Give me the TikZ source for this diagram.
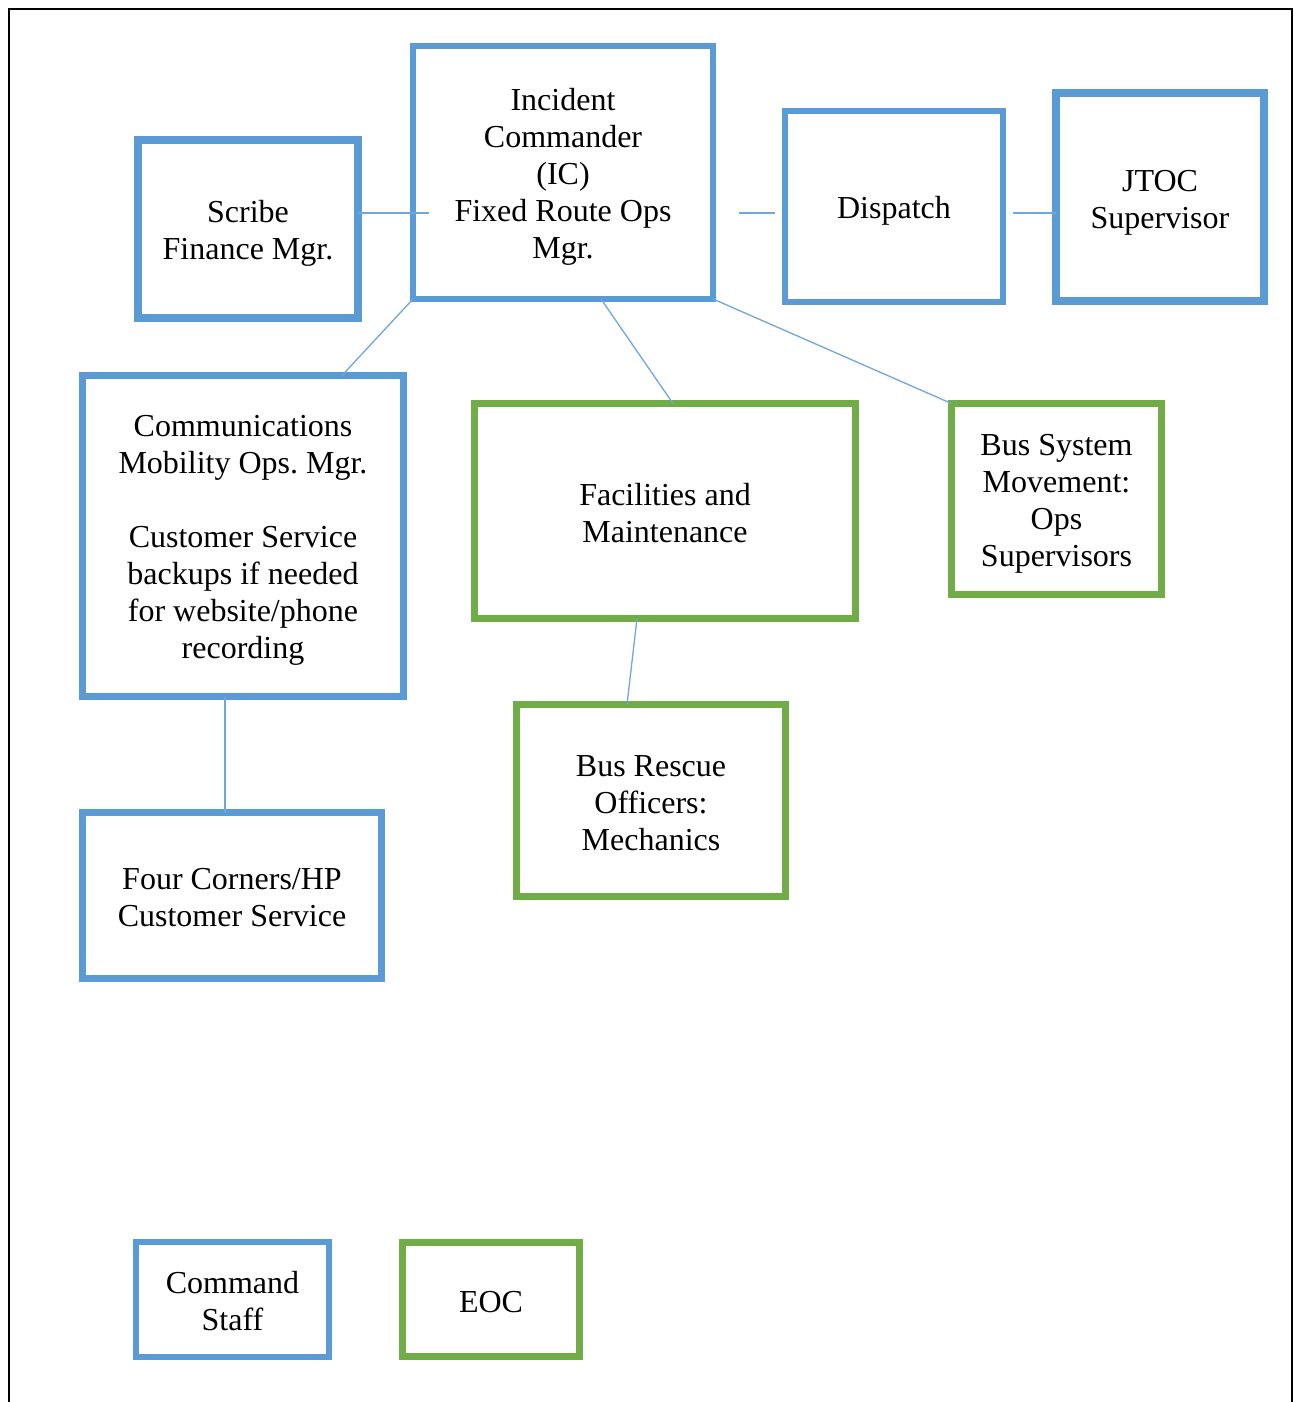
\documentclass[tikz,border=0pt]{standalone}
\usepackage{fontspec}
\setmainfont{Liberation Serif}
\frenchspacing
\definecolor{bluebox}{HTML}{5B9BD5}
\definecolor{greenbox}{HTML}{70AD47}
\definecolor{linkblue}{HTML}{6FA6DB}
\tikzset{
  box/.style={draw, rectangle, inner sep=0pt, outer sep=0pt},
  bluebx/.style={box, draw=bluebox},
  greenbx/.style={box, draw=greenbox},
  txt/.style={align=center, inner sep=0pt, font=\fontsize{32}{37}\selectfont\frenchspacing, text=black},
  link/.style={draw=linkblue, line width=1.3pt},
  frame/.style={draw=black, line width=2pt}
}
\begin{document}
\begin{tikzpicture}[x=1pt, y=-1pt]
\useasboundingbox (0,0) rectangle (1293,1402);
% frame
\coordinate (fbl) at (9,1402);
\coordinate (ftl) at (9,9);
\coordinate (ftr) at (1292,9);
\coordinate (fbr) at (1292,1402);
\draw[frame] (fbl) -- (ftl) -- (ftr) -- (fbr);

% boxes
\node[bluebx, line width=8pt, minimum width=220pt, minimum height=178pt] (scribe) at (248,229) {};
\node[bluebx, line width=6pt, minimum width=300pt, minimum height=253pt] (ic) at (563,172.5) {};
\node[bluebx, line width=6pt, minimum width=218pt, minimum height=191pt] (dispatch) at (894,206.5) {};
\node[bluebx, line width=8pt, minimum width=208pt, minimum height=208pt] (jtoc) at (1160,197) {};
\node[bluebx, line width=7pt, minimum width=321pt, minimum height=321pt] (comm) at (243,536) {};
\node[greenbx, line width=7pt, minimum width=381pt, minimum height=215pt] (fac) at (665,511) {};
\node[greenbx, line width=7pt, minimum width=210pt, minimum height=191pt] (bussys) at (1056.5,499) {};
\node[greenbx, line width=7pt, minimum width=269pt, minimum height=192pt] (rescue) at (651,800.5) {};
\node[bluebx, line width=7pt, minimum width=299pt, minimum height=166pt] (four) at (232,895.5) {};
\node[bluebx, line width=6pt, minimum width=193pt, minimum height=115pt] (cmd) at (232.5,1299.5) {};
\node[greenbx, line width=7pt, minimum width=177pt, minimum height=114pt] (eoc) at (491,1299.5) {};

% texts
\node[txt] (scribe-t) at ([yshift=-4pt]scribe.center) {Scribe\\Finance Mgr.};
\node[txt] (ic-t) at ([yshift=-4.5pt]ic.center) {Incident\\Commander\\(IC)\\Fixed Route Ops\\Mgr.};
\node[txt] (dispatch-t) at ([yshift=-4.5pt]dispatch.center) {Dispatch};
\node[txt] (jtoc-t) at ([yshift=-5.5pt]jtoc.center) {JTOC\\Supervisor};
\node[txt] (comm-t) at ([yshift=-4.5pt]comm.center) {Communications\\Mobility Ops. Mgr.\\[37pt]Customer Service\\backups if needed\\for website/phone\\recording};
\node[txt] (fac-t) at ([yshift=-2pt]fac.center) {Facilities and\\Maintenance};
\node[txt] (bussys-t) at ([yshift=-4.5pt]bussys.center) {Bus System\\Movement:\\Ops\\Supervisors};
\node[txt] (rescue-t) at ([yshift=-2.5pt]rescue.center) {Bus Rescue\\Officers:\\Mechanics};
\node[txt] (four-t) at ([yshift=-2pt]four.center) {Four Corners/HP\\Customer Service};
\node[txt] (cmd-t) at ([yshift=-2pt]cmd.center) {Command\\Staff};
\node[txt] (eoc-t) at ([yshift=-2.5pt]eoc.center) {EOC};

% connector coordinates
\coordinate (scribeEnd) at (429,213);
\coordinate (dispA) at (739,213);
\coordinate (dispB) at (775,213);
\coordinate (jtocA) at (1013,213);

% connectors
\draw[link] (scribe.east |- scribeEnd) -- (scribeEnd);
\draw[link] (dispA) -- (dispB);
\draw[link] (jtocA) -- (jtoc.west |- jtocA);
\draw[link] (ic.south west) -- (comm.north -| 342,0);
\draw[link] (ic.south -| 601,0) -- (fac.north -| 673,0);
\draw[link] (ic.south east) -- (bussys.north west);
\draw[link] (fac.south -| 637,0) -- (rescue.north -| 627,0);
\draw[link] (comm.south -| 225,0) -- (four.north -| 225,0);
\end{tikzpicture}
\end{document}
